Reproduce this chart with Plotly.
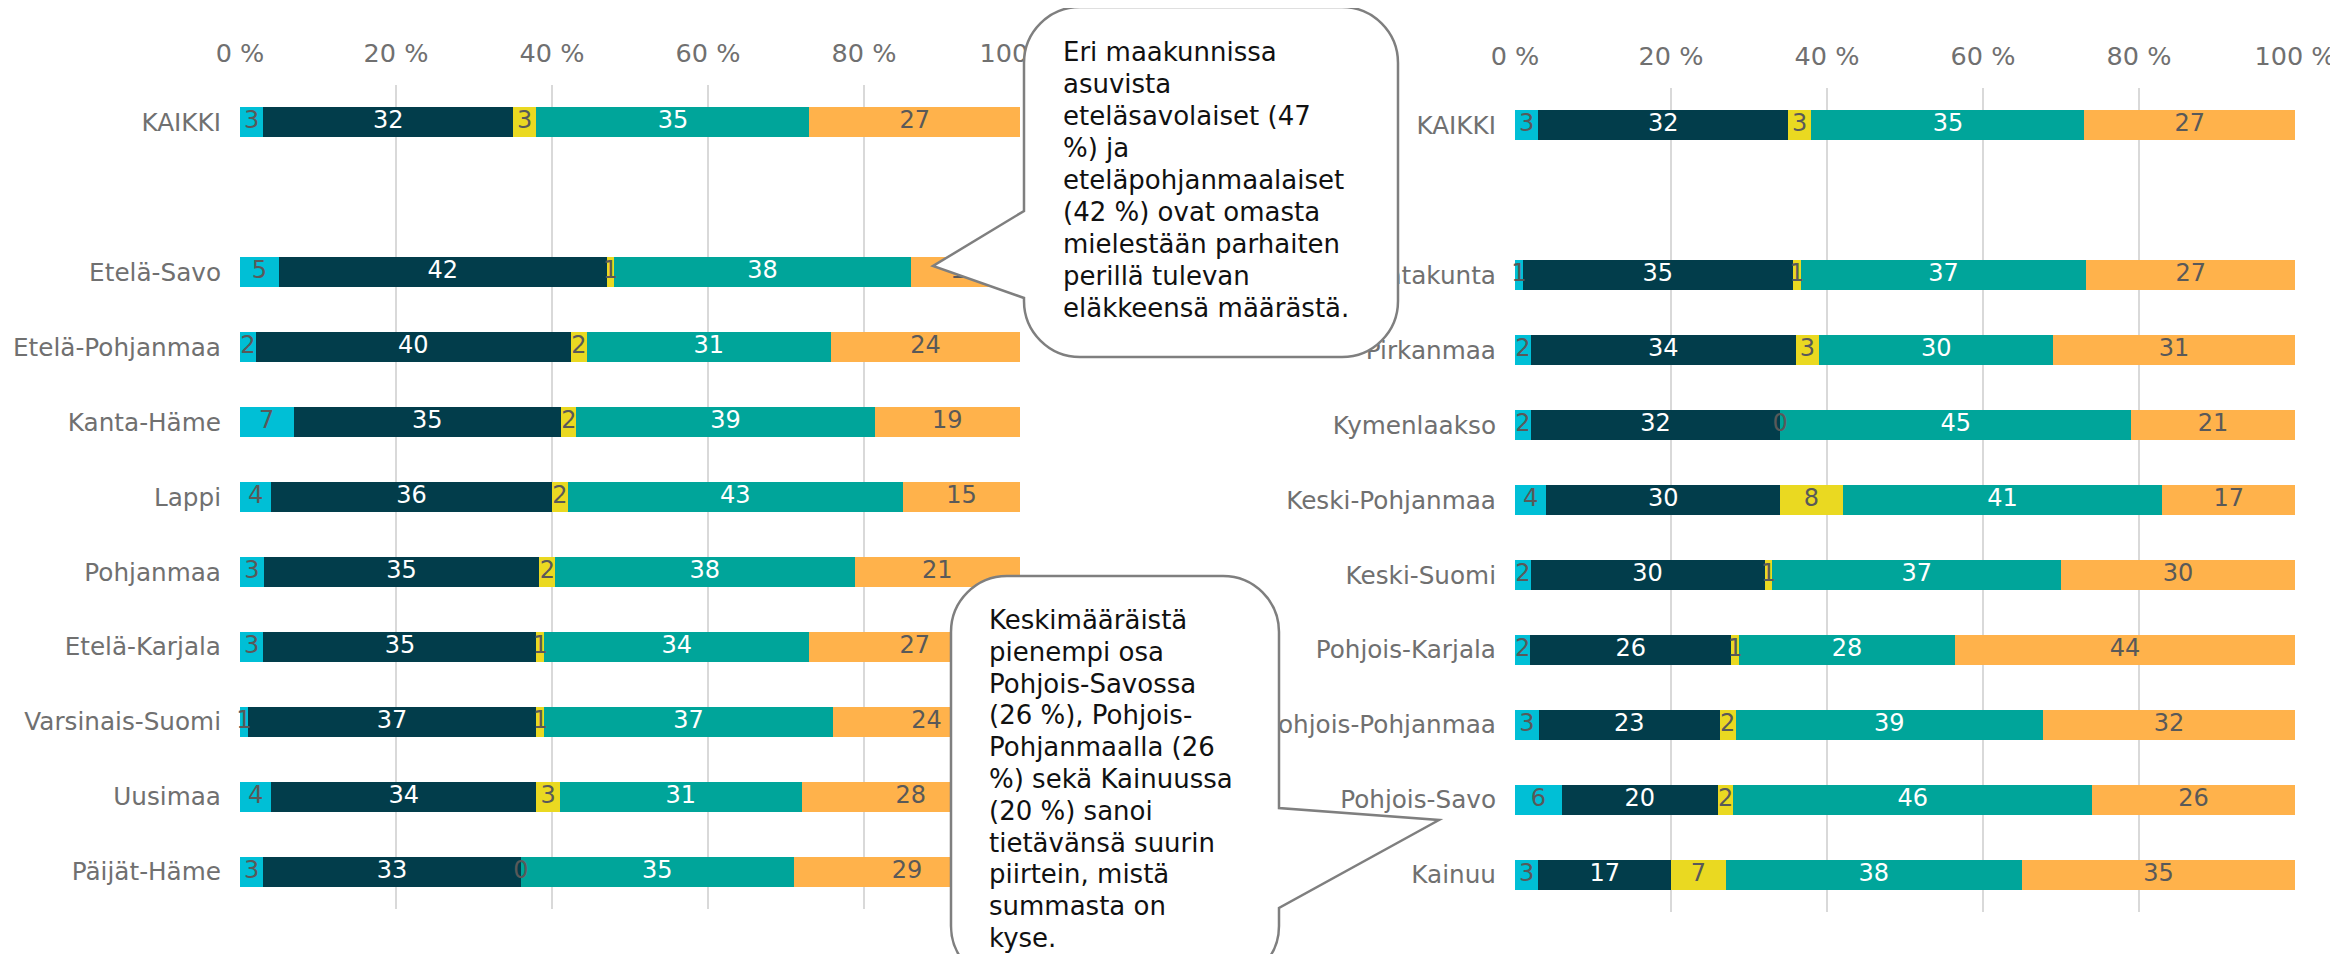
import plotly.graph_objects as go

W, H = 2338, 954
OFF = 8  # page body margin in the browser

series_names = ["s1", "s2", "s3", "s4", "s5"]
series_colors = ["#00BFD6", "#023D4B", "#EAD921", "#00A59A", "#FFB24B"]
label_colors = ["#595959", "#FFFFFF", "#595959", "#FFFFFF", "#595959"]

left_categories = ["KAIKKI", " ", "Etelä-Savo", "Etelä-Pohjanmaa", "Kanta-Häme", "Lappi",
                   "Pohjanmaa", "Etelä-Karjala", "Varsinais-Suomi", "Uusimaa", "Päijät-Häme"]
left_s1 = [3, None, 5, 2, 7, 4, 3, 3, 1, 4, 3]
left_s2 = [32, None, 42, 40, 35, 36, 35, 35, 37, 34, 33]
left_s3 = [3, None, 1, 2, 2, 2, 2, 1, 1, 3, 0]
left_s4 = [35, None, 38, 31, 39, 43, 38, 34, 37, 31, 35]
left_s5 = [27, None, 14, 24, 19, 15, 21, 27, 24, 28, 29]

right_categories = ["KAIKKI", " ", "Satakunta", "Pirkanmaa", "Kymenlaakso", "Keski-Pohjanmaa",
                    "Keski-Suomi", "Pohjois-Karjala", "Pohjois-Pohjanmaa", "Pohjois-Savo", "Kainuu"]
right_s1 = [3, None, 1, 2, 2, 4, 2, 2, 3, 6, 3]
right_s2 = [32, None, 35, 34, 32, 30, 30, 26, 23, 20, 17]
right_s3 = [3, None, 1, 3, 0, 8, 1, 1, 2, 2, 7]
right_s4 = [35, None, 37, 30, 45, 41, 37, 28, 39, 46, 38]
right_s5 = [27, None, 27, 31, 21, 17, 30, 44, 32, 26, 35]

tick_vals = [0, 20, 40, 60, 80, 100]
tick_text = ["0 %", "20 %", "40 %", "60 %", "80 %", "100 %"]

callout1_lines = ["Eri maakunnissa", "asuvista", "eteläsavolaiset (47", "%) ja",
                  "eteläpohjanmaalaiset", "(42 %) ovat omasta", "mielestään parhaiten",
                  "perillä tulevan", "eläkkeensä määrästä."]
callout2_lines = ["Keskimääräistä", "pienempi osa", "Pohjois-Savossa", "(26 %), Pohjois-",
                  "Pohjanmaalla (26", "%) sekä Kainuussa", "(20 %) sanoi",
                  "tietävänsä suurin", "piirtein, mistä", "summasta on", "kyse."]

FONT = "DejaVu Sans, Verdana, sans-serif"

fig = go.Figure()


def add_chart(cats, series, xa, ya):
    for i, vals in enumerate(series):
        fig.add_trace(go.Bar(
            y=cats, x=vals, orientation="h", name=series_names[i],
            marker=dict(color=series_colors[i], line=dict(width=0)),
            xaxis=xa, yaxis=ya, showlegend=False, hoverinfo="skip"))
    # data labels at normalized segment midpoints
    for i, vals in enumerate(series):
        xs, ys, ts = [], [], []
        for j, c in enumerate(cats):
            if vals[j] is None:
                continue
            row = [s[j] for s in series]
            total = sum(row)
            before = sum(row[:i])
            xs.append((before + vals[j] / 2) / total * 100)
            ys.append(c)
            ts.append(str(vals[j]))
        fig.add_trace(go.Scatter(
            x=xs, y=ys, text=ts, mode="text", xaxis=xa, yaxis=ya,
            textfont=dict(family=FONT, size=24, color=label_colors[i]),
            showlegend=False, hoverinfo="skip", cliponaxis=False))


add_chart(left_categories, [left_s1, left_s2, left_s3, left_s4, left_s5], "x", "y")
add_chart(right_categories, [right_s1, right_s2, right_s3, right_s4, right_s5], "x2", "y2")


def px(x):
    return (x - OFF) / W


def py(y):
    return 1 - (y - OFF) / H


axis_common_x = dict(range=[0, 100], tickvals=tick_vals, ticktext=tick_text, side="top",
                     showgrid=True, gridcolor="#D9D9D9", gridwidth=1.5, zeroline=False,
                     showline=False, ticks="", ticklabelstandoff=17, automargin=False,
                     tickfont=dict(family=FONT, size=25.5, color="#707070"), fixedrange=True)
axis_common_y = dict(type="category", categoryorder="array", range=[10.5, -0.5],
                     showgrid=False, zeroline=False, showline=False, ticks="",
                     ticklabelstandoff=18, automargin=False,
                     tickfont=dict(family=FONT, size=24.7, color="#707070"), fixedrange=True)

fig.update_layout(
    width=W, height=H,
    margin=dict(l=0, r=0, t=0, b=0, autoexpand=False),
    paper_bgcolor="white", plot_bgcolor="white",
    barmode="stack", barnorm="percent", bargap=0.6,
    font=dict(family=FONT),
    xaxis=dict(domain=[px(240), px(1020)], anchor="y", **axis_common_x),
    yaxis=dict(domain=[py(909), py(85)], anchor="x", categoryarray=left_categories, **axis_common_y),
    xaxis2=dict(domain=[px(1515), px(2295)], anchor="y2", **axis_common_x),
    yaxis2=dict(domain=[py(912), py(88)], anchor="x2", categoryarray=right_categories, **axis_common_y),
)

K = 0.5523


def callout_path(x0, y0, x1, y1, r, pointer):
    # pointer: ("left"|"right", ya, tipx, tipy, yb) with ya < yb (pixel y down)
    side, ya, tx, ty, yb = pointer

    def P(x, y):
        return f"{px(x):.6f},{py(y):.6f}"

    d = f"M {P(x0 + r, y0)} L {P(x1 - r, y0)} "
    d += f"C {P(x1 - r + K * r, y0)} {P(x1, y0 + r - K * r)} {P(x1, y0 + r)} "
    if side == "right":
        d += f"L {P(x1, ya)} L {P(tx, ty)} L {P(x1, yb)} "
    d += f"L {P(x1, y1 - r)} "
    d += f"C {P(x1, y1 - r + K * r)} {P(x1 - r + K * r, y1)} {P(x1 - r, y1)} "
    d += f"L {P(x0 + r, y1)} "
    d += f"C {P(x0 + r - K * r, y1)} {P(x0, y1 - r + K * r)} {P(x0, y1 - r)} "
    if side == "left":
        d += f"L {P(x0, yb)} L {P(tx, ty)} L {P(x0, ya)} "
    d += f"L {P(x0, y0 + r)} "
    d += f"C {P(x0, y0 + r - K * r)} {P(x0 + r - K * r, y0)} {P(x0 + r, y0)} Z"
    return d


shapes = [
    dict(type="path", xref="paper", yref="paper", layer="above",
         path=callout_path(1024, 7, 1398, 357, 56, ("left", 211, 933, 266, 298)),
         fillcolor="white", line=dict(color="#7F7F7F", width=2.5)),
    dict(type="path", xref="paper", yref="paper", layer="above",
         path=callout_path(951, 576, 1279, 982, 56, ("right", 808, 1439, 820, 908)),
         fillcolor="white", line=dict(color="#7F7F7F", width=2.5)),
]

annotations = []
for i, line in enumerate(callout1_lines):
    annotations.append(dict(xref="paper", yref="paper", x=px(1061), y=py(52 + 32 * i),
                            xanchor="left", yanchor="middle", text=line, showarrow=False,
                            font=dict(family=FONT, size=26, color="#111111")))
for i, line in enumerate(callout2_lines):
    annotations.append(dict(xref="paper", yref="paper", x=px(987), y=py(620 + 31.8 * i),
                            xanchor="left", yanchor="middle", text=line, showarrow=False,
                            font=dict(family=FONT, size=26, color="#111111")))

fig.update_layout(shapes=shapes, annotations=annotations)

fig.write_html("out.html")
